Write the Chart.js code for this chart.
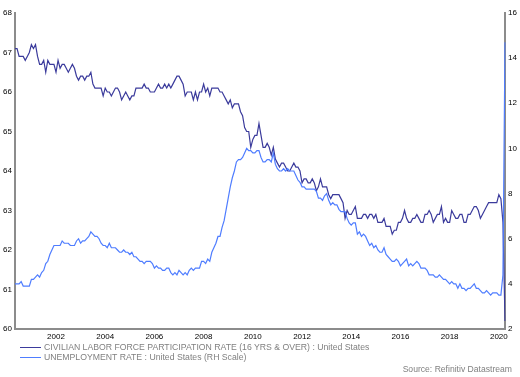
<!DOCTYPE html>
<html>
<head>
<meta charset="utf-8">
<script src="https://cdn.jsdelivr.net/npm/chart.js@4.4.1/dist/chart.umd.min.js"></script>
<style>
  html, body { margin: 0; padding: 0; background: #fff; }
  #wrap { position: relative; width: 520px; height: 377px; }
  #chart { position: absolute; left: 0; top: 0; }
  .leg { position: absolute; left: 20px; font: 8.7px "Liberation Sans", Arial, sans-serif; color: #808080; white-space: nowrap; }
  .leg span { display: inline-block; width: 21px; height: 1px; vertical-align: middle; margin-right: 3px; }
  #source { position: absolute; right: 8px; top: 364px; font: 8.6px "Liberation Sans", Arial, sans-serif; color: #808080; }
</style>
</head>
<body>
<div id="wrap">
  <canvas id="chart" width="520" height="377"></canvas>
  <div class="leg" style="top:342px"><span style="background:#3b3b9c"></span>CIVILIAN LABOR FORCE PARTICIPATION RATE (16 YRS &amp; OVER) : United States</div>
  <div class="leg" style="top:352px"><span style="background:#4f7dff"></span>UNEMPLOYMENT RATE : United States (RH Scale)</div>
  <div id="source">Source: Refinitiv Datastream</div>
</div>
<script>
// ===============================
// DATA (monthly, May 2000 -> Apr 2020)
// ===============================
const startYear = 2000;
const startMonth = 5;

// civilian labor force participation rate, %  (left scale)
const lfpr = [
  67.1, 67.1, 66.9, 66.9, 66.9, 66.8, 66.9, 67.0,                          // 2000 May-Dec
  67.2, 67.1, 67.2, 66.9, 66.7, 66.7, 66.8, 66.5, 66.8, 66.7, 66.7, 66.7,  // 2001
  66.5, 66.8, 66.6, 66.7, 66.7, 66.6, 66.5, 66.6, 66.7, 66.6, 66.4, 66.3,  // 2002
  66.4, 66.4, 66.3, 66.4, 66.4, 66.5, 66.2, 66.1, 66.1, 66.1, 66.1, 65.9,  // 2003
  66.1, 66.0, 66.0, 65.9, 66.0, 66.1, 66.1, 66.0, 65.8, 65.9, 66.0, 65.9,  // 2004
  65.8, 65.9, 65.9, 66.1, 66.1, 66.1, 66.1, 66.2, 66.1, 66.1, 66.0, 66.0,  // 2005
  66.0, 66.1, 66.2, 66.1, 66.1, 66.2, 66.1, 66.2, 66.1, 66.2, 66.3, 66.4,  // 2006
  66.4, 66.3, 66.2, 65.9, 66.0, 66.0, 66.0, 65.8, 66.0, 65.8, 66.0, 66.0,  // 2007
  66.2, 66.0, 66.1, 65.9, 66.1, 66.1, 66.1, 66.1, 66.0, 66.0, 65.9, 65.8,  // 2008
  65.7, 65.8, 65.6, 65.7, 65.7, 65.7, 65.5, 65.4, 65.1, 65.0, 65.0, 64.6,  // 2009
  64.8, 64.9, 64.9, 65.2, 64.9, 64.6, 64.6, 64.7, 64.6, 64.4, 64.6, 64.3,  // 2010
  64.2, 64.1, 64.2, 64.2, 64.1, 64.0, 64.0, 64.1, 64.2, 64.1, 64.1, 64.0,  // 2011
  63.7, 63.8, 63.8, 63.7, 63.7, 63.8, 63.7, 63.5, 63.6, 63.8, 63.6, 63.6,  // 2012
  63.6, 63.4, 63.3, 63.4, 63.4, 63.4, 63.4, 63.3, 63.2, 62.8, 63.0, 62.9,  // 2013
  62.9, 63.0, 63.1, 62.8, 62.8, 62.8, 62.9, 62.9, 62.8, 62.9, 62.9, 62.8,  // 2014
  62.9, 62.7, 62.7, 62.7, 62.8, 62.6, 62.6, 62.6, 62.4, 62.5, 62.5, 62.7,  // 2015
  62.7, 62.8, 63.0, 62.8, 62.7, 62.7, 62.8, 62.8, 62.9, 62.8, 62.7, 62.7,  // 2016
  62.9, 62.9, 63.0, 62.9, 62.7, 62.8, 62.9, 62.9, 63.1, 62.7, 62.8, 62.7,  // 2017
  62.7, 63.0, 62.9, 62.8, 62.8, 62.9, 62.9, 62.7, 62.7, 62.9, 62.9, 63.0,  // 2018
  63.1, 63.1, 63.0, 62.8, 62.9, 63.0, 63.1, 63.2, 63.2, 63.2, 63.2, 63.2,  // 2019
  63.4, 63.3, 62.7, 60.2                                                   // 2020 Jan-Apr
];

// unemployment rate, %  (right scale)
const unemp = [
  4.0, 4.0, 4.0, 4.1, 3.9, 3.9, 3.9, 3.9,                    // 2000 May-Dec
  4.2, 4.2, 4.3, 4.4, 4.3, 4.5, 4.6, 4.9, 5.0, 5.3, 5.5, 5.7, // 2001
  5.7, 5.7, 5.7, 5.9, 5.8, 5.8, 5.8, 5.7, 5.7, 5.7, 5.9, 6.0, // 2002
  5.8, 5.9, 5.9, 6.0, 6.1, 6.3, 6.2, 6.1, 6.1, 6.0, 5.8, 5.7, // 2003
  5.7, 5.6, 5.8, 5.6, 5.6, 5.6, 5.5, 5.4, 5.4, 5.5, 5.4, 5.4, // 2004
  5.3, 5.4, 5.2, 5.2, 5.1, 5.0, 5.0, 4.9, 5.0, 5.0, 5.0, 4.9, // 2005
  4.7, 4.8, 4.7, 4.7, 4.6, 4.6, 4.7, 4.7, 4.5, 4.4, 4.5, 4.4, // 2006
  4.6, 4.5, 4.4, 4.5, 4.4, 4.6, 4.7, 4.6, 4.7, 4.7, 4.7, 5.0, // 2007
  5.0, 4.9, 5.1, 5.0, 5.4, 5.6, 5.8, 6.1, 6.1, 6.5, 6.8, 7.3, // 2008
  7.8, 8.3, 8.7, 9.0, 9.4, 9.5, 9.5, 9.6, 9.8, 10.0, 9.9, 9.9, // 2009
  9.8, 9.8, 9.9, 9.9, 9.6, 9.4, 9.4, 9.5, 9.5, 9.4, 9.8, 9.3, // 2010
  9.1, 9.0, 9.0, 9.1, 9.0, 9.1, 9.0, 9.0, 9.0, 8.8, 8.6, 8.5, // 2011
  8.3, 8.3, 8.2, 8.2, 8.2, 8.2, 8.2, 8.1, 7.8, 7.8, 7.7, 7.9, // 2012
  8.0, 7.7, 7.5, 7.6, 7.5, 7.5, 7.3, 7.2, 7.2, 7.2, 6.9, 6.7, // 2013
  6.6, 6.7, 6.7, 6.2, 6.3, 6.1, 6.2, 6.1, 5.9, 5.7, 5.8, 5.6, // 2014
  5.7, 5.5, 5.4, 5.4, 5.6, 5.3, 5.2, 5.1, 5.0, 5.0, 5.1, 5.0, // 2015
  4.8, 4.9, 5.0, 5.1, 4.8, 4.9, 4.8, 4.9, 5.0, 4.9, 4.7, 4.7, // 2016
  4.7, 4.6, 4.4, 4.4, 4.4, 4.3, 4.3, 4.4, 4.3, 4.2, 4.2, 4.1, // 2017
  4.0, 4.1, 4.0, 4.0, 3.8, 4.0, 3.8, 3.8, 3.7, 3.8, 3.8, 3.9, // 2018
  4.0, 3.8, 3.8, 3.7, 3.6, 3.6, 3.7, 3.6, 3.5, 3.6, 3.6, 3.6, // 2019
  3.5, 3.5, 4.4, 14.7                                         // 2020 Jan-Apr
];

// category labels "YYYY-MM"
const months = [];
for (let i = 0; i < lfpr.length; i++) {
    const m = startMonth - 1 + i;
    const y = startYear + Math.floor(m / 12);
    months.push(y + '-' + String(m % 12 + 1).padStart(2, '0'));
}

const tickFont = { family: 'Liberation Sans', size: 8 };
const axisGrey = '#8c8c8c';

new Chart(document.getElementById('chart'), {
    type: 'line',
    data: {
        labels: months,
        datasets: [
            {
                label: 'UNEMPLOYMENT RATE : United States (RH Scale)',
                data: unemp,
                yAxisID: 'y2',
                borderColor: '#4f7dff',
                borderWidth: 1.2,
                pointRadius: 0,
                tension: 0
            },
            {
                label: 'CIVILIAN LABOR FORCE PARTICIPATION RATE (16 YRS & OVER) : United States',
                data: lfpr,
                yAxisID: 'y',
                borderColor: '#3b3b9c',
                borderWidth: 1.2,
                pointRadius: 0,
                tension: 0
            }
        ]
    },
    options: {
        responsive: false,
        animation: false,
        devicePixelRatio: 1,
        layout: { padding: { top: 13, left: 0, right: 0, bottom: 0 } },
        plugins: { legend: { display: false }, tooltip: { enabled: false } },
        scales: {
            x: {
                type: 'category',
                offset: false,
                grid: { display: false, drawTicks: false },
                border: { display: true, color: axisGrey, width: 2 },
                ticks: {
                    autoSkip: false,
                    maxRotation: 0,
                    padding: 3,
                    font: tickFont,
                    color: '#000',
                    callback: function (value, index) {
                        const lab = months[index];
                        const y = +lab.slice(0, 4);
                        return (lab.slice(5) === '01' && y % 2 === 0) ? String(y) : '';
                    }
                },
                afterFit: s => { s.height = 48; }
            },
            y: {
                position: 'left',
                min: 60, max: 68,
                grid: { display: false, drawTicks: false },
                border: { display: true, color: axisGrey, width: 2 },
                ticks: { stepSize: 1, padding: 3, font: tickFont, color: '#000' },
                afterFit: s => { s.width = 15; }
            },
            y2: {
                position: 'right',
                min: 2, max: 16,
                grid: { display: false, drawTicks: false },
                border: { display: true, color: axisGrey, width: 2 },
                ticks: { stepSize: 2, padding: 3, font: tickFont, color: '#000' },
                afterFit: s => { s.width = 15; }
            }
        }
    }
});
</script>
</body>
</html>
